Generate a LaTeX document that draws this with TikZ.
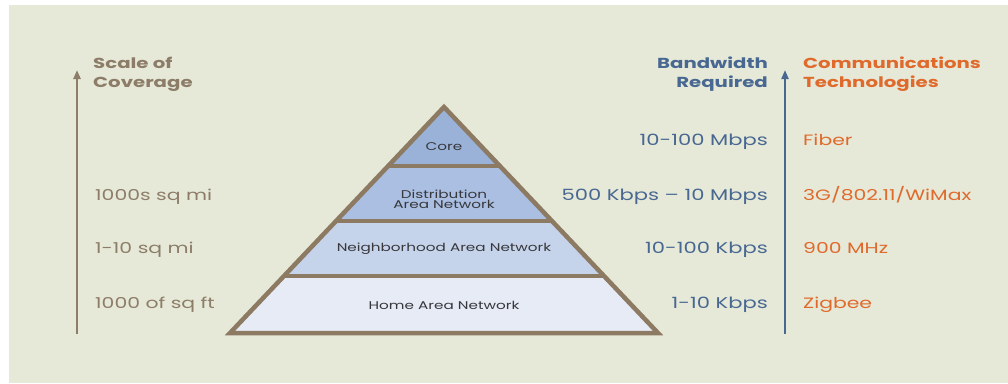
\documentclass[tikz,border=0pt]{standalone}
\usepackage{fontspec}
\setmainfont{Poppins}[FakeStretch=1.36]
\usetikzlibrary{arrows.meta}
\definecolor{bgcol}{RGB}{230,233,216}
\definecolor{edge}{RGB}{140,122,98}
\definecolor{scalecol}{RGB}{140,124,104}
\definecolor{bwcol}{RGB}{72,104,146}
\definecolor{techcol}{RGB}{224,106,44}
\definecolor{layerA}{RGB}{154,178,216}
\definecolor{layerB}{RGB}{170,191,225}
\definecolor{layerC}{RGB}{198,212,235}
\definecolor{layerD}{RGB}{230,235,246}
\definecolor{labcol}{RGB}{55,55,60}
\tikzset{
  head/.style={font=\fontsize{14.5}{19}\selectfont\bfseries, inner sep=0pt, align=left},
  scaletxt/.style={font=\fontsize{15}{18}\selectfont, text=scalecol, anchor=base west, inner sep=0pt},
  bwtxt/.style={font=\fontsize{15.5}{18}\selectfont, text=bwcol, anchor=base east, inner sep=0pt},
  techtxt/.style={font=\fontsize{15}{18}\selectfont, text=techcol, anchor=base west, inner sep=0pt},
  layertxt/.style={font=\fontsize{11.2}{12}\selectfont, text=labcol, inner sep=0pt, align=center},
  axis/.style={line width=2.2pt, -{Triangle[length=9pt,width=7pt]}},
}
\begin{document}
\begin{tikzpicture}[x=1pt,y=-1pt]
\useasboundingbox (0,0) rectangle (1008,383);
\fill[white] (0,0) rectangle (1008,383);
\fill[bgcol] (9,5) rectangle (1008,383);

% pyramid layers
\coordinate (apex) at (444,107);
\coordinate (bl) at (230,333);
\coordinate (br) at (658,333);
\fill[layerA] (apex) -- (499.9,166) -- (388.1,166) -- cycle;
\fill[layerB] (388.1,166) -- (499.9,166) -- (551.9,221) -- (336.1,221) -- cycle;
\fill[layerC] (336.1,221) -- (551.9,221) -- (604,276) -- (284,276) -- cycle;
\fill[layerD] (284,276) -- (604,276) -- (br) -- (bl) -- cycle;
\draw[edge, line width=3.5pt] (388.1,166) -- (499.9,166)
  (336.1,221) -- (551.9,221) (284,276) -- (604,276);
\draw[edge, line width=4.5pt, line join=miter] (apex) -- (br) -- (bl) -- cycle;

\node[layertxt] (core) at (444,147) {Core};
\node[layertxt] (dan) at (444,199) {Distribution\\[-2pt]Area Network};
\node[layertxt] (nan) at (444,249) {Neighborhood Area Network};
\node[layertxt] (han) at (444,305) {Home Area Network};

% axes
\coordinate (sbot) at (77,334);
\coordinate (stop) at (77,70);
\coordinate (bbot) at (785,334);
\coordinate (btop) at (785,70);
\draw[axis, scalecol] (sbot) -- (stop);
\draw[axis, bwcol, line width=2pt] (bbot) -- (btop);

% headings
\node[head, text=scalecol, anchor=north west] (hscale) at (93,57) {Scale of\\Coverage};
\node[head, text=bwcol, anchor=north east, align=right] (hbw) at (768,57) {Bandwidth\\Required};
\node[head, text=techcol, anchor=north west] (htech) at (803,57) {Communications\\Technologies};

% scale of coverage
\node[scaletxt] (s1) at (95,200) {1000s sq mi};
\node[scaletxt] (s2) at (95,253) {1-10 sq mi};
\node[scaletxt] (s3) at (95,308) {1000 of sq ft};

% bandwidth
\node[bwtxt] (b0) at (768,145) {10-100 Mbps};
\node[bwtxt] (b1) at (768,200) {500 Kbps -- 10 Mbps};
\node[bwtxt] (b2) at (768,253) {10-100 Kbps};
\node[bwtxt] (b3) at (768,308) {1-10 Kbps};

% technologies
\node[techtxt] (t0) at (803,145) {Fiber};
\node[techtxt] (t1) at (803,200) {3G/802.11/WiMax};
\node[techtxt] (t2) at (803,253) {900 MHz};
\node[techtxt] (t3) at (803,308) {Zigbee};
\end{tikzpicture}
\end{document}
